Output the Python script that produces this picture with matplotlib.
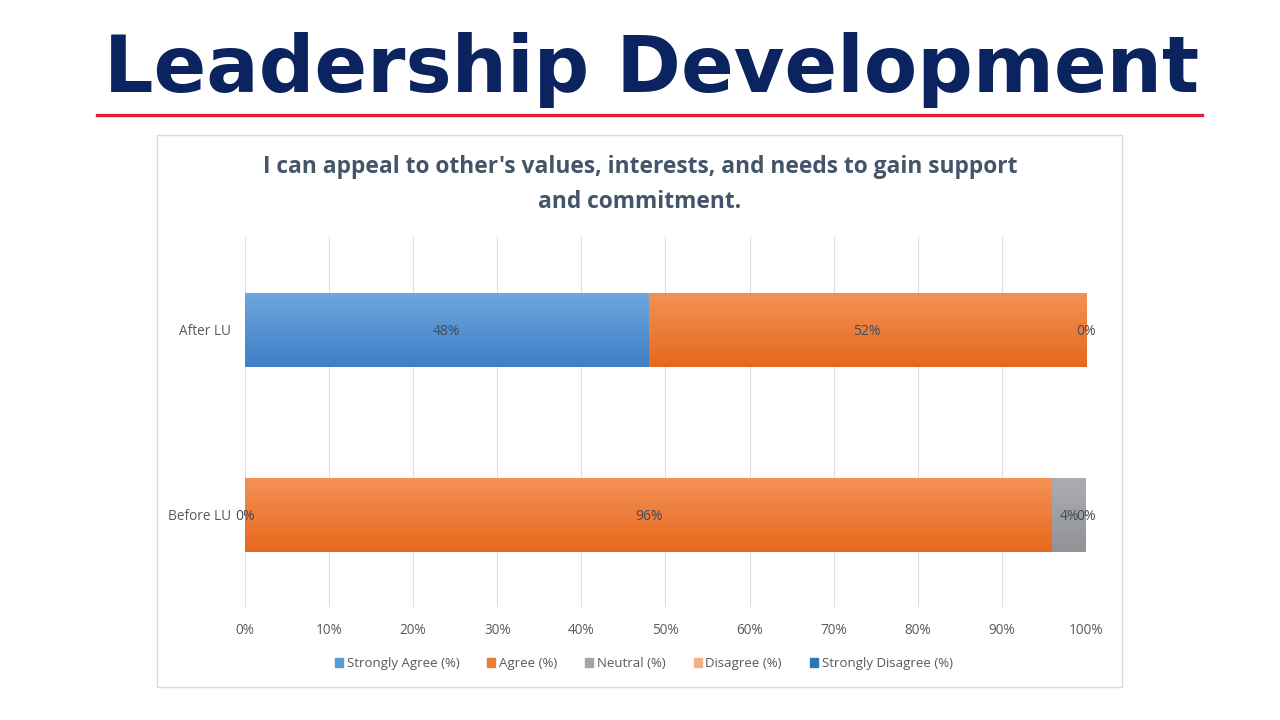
import numpy as np
import matplotlib.pyplot as plt
from matplotlib.colors import LinearSegmentedColormap
from matplotlib.patches import Rectangle

# survey data (percent)
categories = ["Before LU", "After LU"]
series_names = ["Strongly Agree (%)", "Agree (%)", "Neutral (%)", "Disagree (%)", "Strongly Disagree (%)"]
strongly_agree = [0, 48]
agree = [96, 52]
neutral = [4, 0]
disagree = [0, np.nan]
strongly_disagree = [np.nan, np.nan]
x_ticks = [0, 10, 20, 30, 40, 50, 60, 70, 80, 90, 100]

series_values = [strongly_agree, agree, neutral, disagree, strongly_disagree]
# (top, bottom) colours for the gradient fill
grad_colors = [("#6fa6dd", "#3f7fc6"),
               ("#f59156", "#e5691c"),
               ("#acadb0", "#929398"),
               ("#f7bd92", "#f0a56f"),
               ("#3a78b8", "#27609d")]
legend_colors = ["#5b9bd5", "#ed7d31", "#a5a5a5", "#f4b183", "#2e75b6"]

fig = plt.figure(figsize=(12.8, 7.2), dpi=100)
fig.patch.set_facecolor("white")

# page title + red rule
fig.text(0.509, 0.872, "Leadership Development", ha="center", va="baseline",
         fontsize=56, fontweight="bold", color="#0b2460", family="DejaVu Sans")
fig.add_artist(plt.Line2D([0.0758, 0.939], [0.8403, 0.8403], color="#e0203a", lw=2.4))

# chart frame
fig.add_artist(Rectangle((0.1227, 0.0458), 0.7539, 0.7667, transform=fig.transFigure,
                         facecolor="white", edgecolor="#d9d9d9", lw=1, zorder=0))

fig.text(0.5, 0.744, "I can appeal to other's values, interests, and needs to gain support\nand commitment.",
         ha="center", va="center", fontsize=16.4, fontweight="bold", color="#44546a",
         family="Open Sans", linespacing=1.6)

ax = fig.add_axes([0.1914, 0.1563, 0.657, 0.5139])
ax.set_facecolor("none")
y = np.arange(len(categories))
left = np.zeros(len(categories))
bar_h = 0.4

for name, vals, (ctop, cbot), lc in zip(series_names, series_values, grad_colors, legend_colors):
    v = np.nan_to_num(np.array(vals, dtype=float))
    bars = ax.barh(y, v, left=left, height=bar_h, color=lc, edgecolor="none", label=name, zorder=2)
    cmap = LinearSegmentedColormap.from_list(name, [cbot, ctop])
    grad = np.linspace(0, 1, 64).reshape(-1, 1)
    for b in bars:
        if b.get_width() > 0:
            x0, y0 = b.get_x(), b.get_y()
            im = ax.imshow(grad, cmap=cmap, aspect="auto", origin="lower",
                           extent=[x0, x0 + b.get_width(), y0, y0 + b.get_height()], zorder=3)
            im.set_clip_path(b)
    for i, raw in enumerate(vals):
        if not np.isnan(raw):
            ax.text(left[i] + v[i] / 2, y[i] - 0.01, "%d%%" % raw, ha="center", va="center",
                    fontsize=10, color="#404a5a", family="Open Sans", zorder=5)
    left = left + v

ax.set_xlim(0, 100)
ax.set_ylim(-0.5, 1.5)
ax.set_yticks(y)
ax.set_yticklabels(categories)
ax.set_xticks(x_ticks)
ax.set_xticklabels(["%d%%" % t for t in x_ticks])
for s in ax.spines.values():
    s.set_visible(False)
ax.tick_params(axis="both", length=0, labelsize=9.8, labelcolor="#595959")
ax.tick_params(axis="x", pad=11)
ax.tick_params(axis="y", pad=10)
for lab in ax.get_xticklabels() + ax.get_yticklabels():
    lab.set_family("Open Sans")
ax.grid(axis="x", color="#dedede", lw=0.8, zorder=0)
ax.set_axisbelow(True)

handles = [Rectangle((0, 0), 1, 1, color=c) for c in legend_colors]
fig.legend(handles, series_names, loc="center", bbox_to_anchor=(0.503, 0.078), ncol=5,
           frameon=False, handlelength=0.6, handleheight=0.6, handletextpad=0.3,
           columnspacing=2.1, prop={"family": "Open Sans", "size": 9.5}, labelcolor="#595959")

fig.savefig("out.png", dpi=100, facecolor="white")
